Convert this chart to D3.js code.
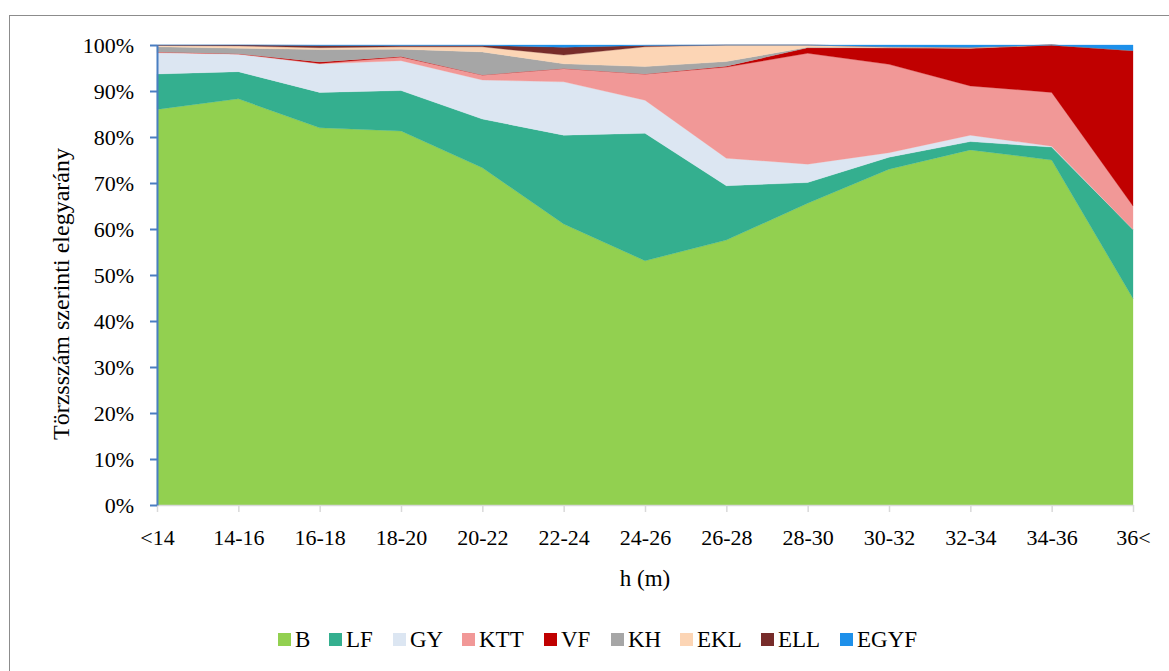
<!DOCTYPE html>
<html>
<head>
<meta charset="utf-8">
<script src="https://cdn.jsdelivr.net/npm/d3@7"></script>
<style>
  body { margin: 0; background: #fff; }
  svg { display: block; }
</style>
</head>
<body>
<div id="chart"></div>
<script>
// Kategóriák (magassági osztályok)
var categories = ["<14", "14-16", "16-18", "18-20", "20-22", "22-24", "24-26", "26-28", "28-30", "30-32", "32-34", "34-36", "36<"];

// Fafajok arányai (%), leolvasva
var B    = [86.0, 88.3, 82.0, 81.3, 73.3, 61.1, 53.1, 57.6, 65.6, 73.0, 77.2, 75.0, 44.9];
var LF   = [7.7, 5.9, 7.7, 8.8, 10.6, 19.3, 27.7, 11.8, 4.5, 2.6, 1.8, 2.8, 15.0];
var GY   = [4.6, 3.8, 6.2, 6.5, 8.5, 11.6, 7.2, 6.0, 4.0, 1.0, 1.4, 0.2, 0.0];
var KTT  = [0.2, 0.1, 0.1, 0.8, 1.1, 2.9, 5.7, 19.8, 24.1, 19.2, 10.7, 11.7, 5.1];
var VF   = [0.0, 0.0, 0.3, 0.1, 0.0, 0.0, 0.0, 0.2, 1.2, 3.6, 8.2, 10.3, 33.8];
var KH   = [1.1, 1.2, 2.7, 1.6, 5.0, 1.0, 1.6, 1.0, 0.1, 0.0, 0.0, 0.0, 0.0];
var EKL  = [0.3, 0.5, 0.4, 0.5, 1.1, 1.9, 4.3, 3.6, 0.5, 0.2, 0.2, 0.0, 0.0];
var ELL  = [0.1, 0.2, 0.5, 0.3, 0.3, 1.7, 0.3, 0.0, 0.0, 0.0, 0.0, 0.0, 0.0];
var EGYF = [0.0, 0.0, 0.1, 0.1, 0.1, 0.5, 0.1, 0.0, 0.0, 0.4, 0.5, 0.0, 1.2];

var seriesNames = ["B", "LF", "GY", "KTT", "VF", "KH", "EKL", "ELL", "EGYF"];
var seriesValues = [B, LF, GY, KTT, VF, KH, EKL, ELL, EGYF];
var yTicks = [0, 0.1, 0.2, 0.3, 0.4, 0.5, 0.6, 0.7, 0.8, 0.9, 1.0];

var colors = ["#92D050", "#34AF8F", "#DCE6F2", "#F19897", "#C00000", "#A6A6A6", "#FCD5B5", "#772C2A", "#1E90EA"];

var width = 1169;
var height = 671;
var fontFam = "'Liberation Serif', 'Times New Roman', serif";

var svg = d3.select('#chart')
    .append('svg')
    .attr('width', width)
    .attr('height', height);

// keret
svg.append('rect')
    .attr('x', 9.5)
    .attr('y', 15.5)
    .attr('width', 1170)
    .attr('height', 680)
    .attr('fill', 'none')
    .attr('stroke', '#8c8c8c')
    .attr('stroke-width', 1);

var plotLeft = 157, plotRight = 1133, plotTop = 45, plotBottom = 505;

// tábla a stack-hez
var table = categories.map(function(c, i) {
    var row = { cat: c };
    seriesNames.forEach(function(s, j) { row[s] = seriesValues[j][i]; });
    return row;
});

var stacked = d3.stack()
    .keys(seriesNames)
    .offset(d3.stackOffsetExpand)(table);

var x = d3.scalePoint()
    .domain(categories)
    .range([plotLeft, plotRight])
    .padding(0);

var y = d3.scaleLinear()
    .domain([0, 1])
    .range([plotBottom, plotTop]);

var area = d3.area()
    .x(function(d) { return x(d.data.cat); })
    .y0(function(d) { return y(d[0]); })
    .y1(function(d) { return y(d[1]); });

svg.append('g')
    .selectAll('path')
    .data(stacked)
    .enter()
    .append('path')
    .attr('d', area)
    .attr('fill', function(d, i) { return colors[i]; })
    .attr('stroke', function(d, i) { return colors[i]; })
    .attr('stroke-width', 0.3);

// X tengely
var xaxis = svg.append('g')
    .attr('transform', 'translate(0,' + plotBottom + ')')
    .call(d3.axisBottom(x).tickSizeInner(7).tickSizeOuter(0).tickPadding(17));
xaxis.select('.domain').attr('stroke', '#d9d9d9').attr('stroke-width', 1.5);
xaxis.selectAll('.tick line').attr('stroke', '#d9d9d9').attr('stroke-width', 1.5);
xaxis.selectAll('text')
    .attr('fill', '#000')
    .style('font-size', '22px')
    .style('font-family', fontFam);

// Y tengely
var yaxis = svg.append('g')
    .attr('transform', 'translate(' + plotLeft + ',0)')
    .call(d3.axisLeft(y).tickValues(yTicks).tickFormat(d3.format('.0%')).tickSizeInner(7).tickSizeOuter(0).tickPadding(16));
yaxis.select('.domain').attr('stroke', '#4A7EC2').attr('stroke-width', 2);
yaxis.selectAll('.tick line').attr('stroke', '#4A7EC2').attr('stroke-width', 2);
yaxis.selectAll('text')
    .attr('fill', '#000')
    .style('font-size', '22px')
    .style('font-family', fontFam);

// tengelycímek
svg.append('text')
    .attr('x', (plotLeft + plotRight) / 2)
    .attr('y', 586)
    .attr('text-anchor', 'middle')
    .style('font-size', '23px')
    .style('font-family', fontFam)
    .text('h (m)');

svg.append('text')
    .attr('transform', 'translate(69,' + ((plotTop + plotBottom) / 2 + 19) + ') rotate(-90)')
    .attr('text-anchor', 'middle')
    .style('font-size', '24px')
    .style('font-family', fontFam)
    .text('Törzsszám szerinti elegyarány');

// jelmagyarázat
var legendX = [278, 329, 393, 462, 544, 611, 680, 761, 840];
var legend = svg.append('g')
    .selectAll('g')
    .data(seriesNames)
    .enter()
    .append('g')
    .attr('transform', function(d, i) { return 'translate(' + legendX[i] + ',633)'; });

legend.append('rect')
    .attr('width', 13)
    .attr('height', 13)
    .attr('fill', function(d, i) { return colors[i]; });

legend.append('text')
    .attr('x', 17)
    .attr('y', 14)
    .style('font-size', '23px')
    .style('font-family', fontFam)
    .text(function(d) { return d; });
</script>
</body>
</html>
